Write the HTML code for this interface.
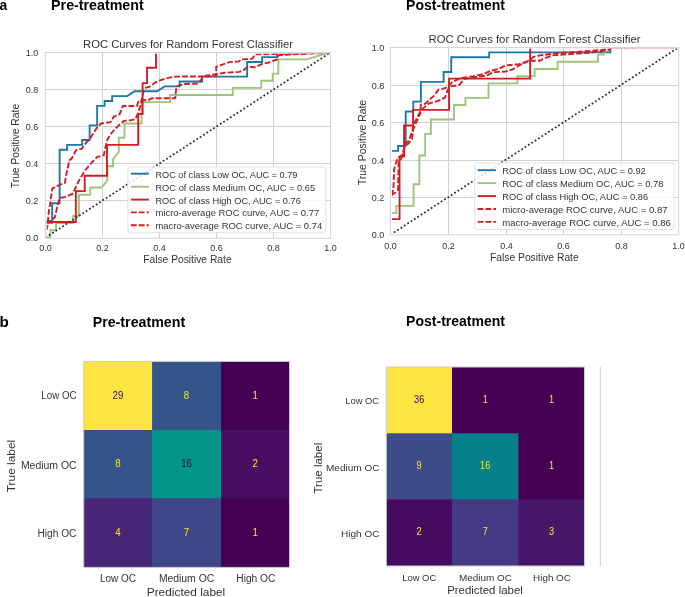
<!DOCTYPE html>
<html><head><meta charset="utf-8"><title>ROC and confusion matrices</title>
<style>html,body{margin:0;padding:0;background:#fff;width:685px;height:597px;overflow:hidden}svg{display:block;will-change:transform}text{font-family:"Liberation Sans", sans-serif}</style>
</head><body>
<svg width="685" height="597" viewBox="0 0 685 597" font-family='"Liberation Sans", sans-serif'>
<rect width="685" height="597" fill="#fff"/>
<text x="3.45" y="9.8" text-anchor="middle" font-size="14" font-weight="700" fill="#000" textLength="7.7" lengthAdjust="spacingAndGlyphs">a</text>
<text x="97.4" y="9.8" text-anchor="middle" font-size="14" font-weight="700" fill="#000" textLength="92.6" lengthAdjust="spacingAndGlyphs">Pre-treatment</text>
<text x="455.55" y="10" text-anchor="middle" font-size="14" font-weight="700" fill="#000" textLength="98.9" lengthAdjust="spacingAndGlyphs">Post-treatment</text>
<text x="4.25" y="326.9" text-anchor="middle" font-size="14" font-weight="700" fill="#000" textLength="9.3" lengthAdjust="spacingAndGlyphs">b</text>
<text x="138.95" y="326.9" text-anchor="middle" font-size="14" font-weight="700" fill="#000" textLength="92.5" lengthAdjust="spacingAndGlyphs">Pre-treatment</text>
<text x="455.55" y="326.2" text-anchor="middle" font-size="14" font-weight="700" fill="#000" textLength="98.9" lengthAdjust="spacingAndGlyphs">Post-treatment</text>
<clipPath id="cl"><rect x="46.8" y="53.8" width="282.9" height="184.1"/></clipPath>
<path d="M102.5,52.5V238.3M45.3,200.5H330.6M159.5,52.5V238.3M45.3,163.5H330.6M216.5,52.5V238.3M45.3,126.5H330.6M273.5,52.5V238.3M45.3,89.5H330.6" stroke="#d2d2d2" stroke-width="1" fill="none"/>
<g clip-path="url(#cl)" fill="none" stroke-width="1.9" stroke-linejoin="miter">
<path d="M44.65,237.4 L44.65,222.79 L52.15,222.79 L52.15,203.3 L59.65,203.3 L59.65,149.72 L67.15,149.72 L67.15,144.85 L82.15,144.85 L82.15,139.98 L89.65,139.98 L89.65,125.37 L97.15,125.37 L97.15,105.88 L104.65,105.88 L104.65,101.01 L112.15,101.01 L112.15,96.14 L127.15,96.14 L134.65,91.27 L157.15,91.27 L164.65,86.4 L179.65,86.4 L179.65,81.53 L202.15,81.53 L202.15,76.66 L247.15,76.66 L247.15,62.04 L262.15,62.04 L262.15,57.17 L277.15,57.17 L277.15,52.3 L329.65,52.3" stroke="#1a78ad"/>
<path d="M44.65,237.4 L50.35,237.4 L50.35,230.28 L56.05,230.28 L56.05,223.16 L73.15,223.16 L73.15,216.04 L78.85,216.04 L78.85,194.68 L90.25,194.68 L90.25,187.57 L101.65,187.57 L107.35,180.45 L107.35,166.21 L113.05,166.21 L113.05,159.09 L118.75,151.97 L118.75,137.73 L124.45,137.73 L124.45,123.49 L141.55,123.49 L141.55,102.13 L170.05,102.13 L170.05,95.02 L232.75,95.02 L232.75,87.9 L261.25,87.9 L261.25,80.78 L272.65,80.78 L272.65,73.66 L278.35,73.66 L278.35,59.42 L306.85,59.42 L329.65,52.3" stroke="#9cc57a"/>
<path d="M44.65,237.4 L44.65,221.97 L75.82,221.97 L75.82,191.12 L84.73,191.12 L84.73,175.7 L106.99,175.7 L106.99,144.85 L138.17,144.85 L138.17,114 L142.62,114 L142.62,83.15 L147.07,83.15 L147.07,67.73 L155.98,67.73 L155.98,52.3 L329.65,52.3" stroke="#d21e22"/>
<path d="M45.4,238.2 L45.6,232 L47.5,226 L48,220 L49,210 L50.3,203 L52,190 L52.5,188.5 L57,186 L65,182.8 L66,176 L69.3,160.4 L71.8,158.3 L76,150.3 L81.9,148.6 L86,142.8 L89.4,139.4 L97,127.7 L101.1,123.5 L110.4,122.2 L113.7,116.8 L119.6,114.3 L122.9,106 L137,106 L138.5,100.8 L149,99.7 L152,98.2 L175.3,98.2 L176.3,86.6 L184,84 L198.8,83.5 L202.1,78.2 L206.8,75.5 L217.5,74.1 L224.2,72.8 L239,71.9 L243,70.8 L247.7,66.8 L255,67.2 L263,63.4 L268.4,62.7 L277.1,59.4 L278.5,55.4 L290,54.5 L330.5,52.7" stroke="#d21e22" stroke-dasharray="5.8 2.1"/>
<path d="M45.4,238.2 L45.6,228 L46.2,221.5 L51,221 L55,217 L56.5,210 L58,204 L59.6,198 L65,197 L72.2,194 L74,191.1 L78.7,181.1 L84.5,171.2 L88.6,166.2 L97,157 L103.7,155.3 L107,140.3 L110.4,134.4 L115.4,128.5 L123.8,121 L130.5,120.2 L135.1,119.3 L138.1,113.2 L141.6,101.2 L143.6,90.1 L146.1,87.6 L149.6,86.6 L155.2,82.6 L159.2,80.6 L167.2,78.1 L175.3,76.6 L216.2,76.4 L216.2,66.8 L220.2,65.4 L229.6,62.1 L239,61.4 L241.6,59.4 L252.4,58.7 L255,54.4 L277,54 L330.5,52.7" stroke="#d21e22" stroke-dasharray="5.8 2.1"/>
<path d="M45.5,237.6L330.5,52.5" stroke="#2d2d2d" stroke-width="1.75" stroke-dasharray="1.8 2.2"/>
</g>
<rect x="45.3" y="52.5" width="285.3" height="185.8" fill="none" stroke="#d4d4d4" stroke-width="1"/>
<text x="188.05" y="47.8" text-anchor="middle" font-size="11.2" fill="#333333" textLength="210.02" lengthAdjust="spacingAndGlyphs">ROC Curves for Random Forest Classifier</text>
<text x="187.4" y="263.3" text-anchor="middle" font-size="10.4" fill="#333333" textLength="88.44" lengthAdjust="spacingAndGlyphs">False Positive Rate</text>
<text transform="translate(19,146.05) rotate(-90)" text-anchor="middle" font-size="10.4" fill="#333333" textLength="84.34" lengthAdjust="spacingAndGlyphs">True Positive Rate</text>
<text x="45.5" y="251.2" text-anchor="middle" font-size="9" fill="#333333">0.0</text>
<text x="38.3" y="241.3" text-anchor="end" font-size="9" fill="#333333">0.0</text>
<text x="102.5" y="251.2" text-anchor="middle" font-size="9" fill="#333333">0.2</text>
<text x="38.3" y="204.3" text-anchor="end" font-size="9" fill="#333333">0.2</text>
<text x="159.5" y="251.2" text-anchor="middle" font-size="9" fill="#333333">0.4</text>
<text x="38.3" y="167.3" text-anchor="end" font-size="9" fill="#333333">0.4</text>
<text x="216.5" y="251.2" text-anchor="middle" font-size="9" fill="#333333">0.6</text>
<text x="38.3" y="130.3" text-anchor="end" font-size="9" fill="#333333">0.6</text>
<text x="273.5" y="251.2" text-anchor="middle" font-size="9" fill="#333333">0.8</text>
<text x="38.3" y="93.3" text-anchor="end" font-size="9" fill="#333333">0.8</text>
<text x="330.5" y="251.2" text-anchor="middle" font-size="9" fill="#333333">1.0</text>
<text x="38.3" y="56.3" text-anchor="end" font-size="9" fill="#333333">1.0</text>
<rect x="127.9" y="167" width="197.9" height="65.7" rx="2.5" fill="#fff" fill-opacity="0.82" stroke="#e2e2e2" stroke-width="1"/>
<path d="M130.9,173.7H148.9" stroke="#1a78ad" stroke-width="1.9"/>
<text x="226.45" y="177.65" text-anchor="middle" font-size="9.5" fill="#333333" textLength="142.05" lengthAdjust="spacingAndGlyphs">ROC of class Low OC, AUC = 0.79</text>
<path d="M130.9,186.7H148.9" stroke="#9cc57a" stroke-width="1.9"/>
<text x="235.25" y="190.65" text-anchor="middle" font-size="9.5" fill="#333333" textLength="159.65" lengthAdjust="spacingAndGlyphs">ROC of class Medium OC, AUC = 0.65</text>
<path d="M130.9,199.6H148.9" stroke="#d21e22" stroke-width="1.9"/>
<text x="228.15" y="203.55" text-anchor="middle" font-size="9.5" fill="#333333" textLength="145.45" lengthAdjust="spacingAndGlyphs">ROC of class High OC, AUC = 0.76</text>
<path d="M130.9,212.4H148.9" stroke="#d21e22" stroke-width="1.9" stroke-dasharray="5.8 2.1"/>
<text x="237.35" y="216.35" text-anchor="middle" font-size="9.5" fill="#333333" textLength="163.85" lengthAdjust="spacingAndGlyphs">micro-average ROC curve, AUC = 0.77</text>
<path d="M130.9,225.2H148.9" stroke="#d21e22" stroke-width="1.9" stroke-dasharray="5.8 2.1"/>
<text x="238.85" y="229.15" text-anchor="middle" font-size="9.5" fill="#333333" textLength="166.85" lengthAdjust="spacingAndGlyphs">macro-average ROC curve, AUC = 0.74</text>
<clipPath id="cr"><rect x="392" y="48.8" width="285.8" height="185.6"/></clipPath>
<path d="M448.5,47.5V234.8M390.5,197.5H678.7M506.5,47.5V234.8M390.5,160.5H678.7M563.5,47.5V234.8M390.5,122.5H678.7M621.5,47.5V234.8M390.5,85.5H678.7" stroke="#d2d2d2" stroke-width="1" fill="none"/>
<g clip-path="url(#cr)" fill="none" stroke-width="1.9" stroke-linejoin="miter">
<path d="M390.55,234.7 L390.55,150.91 L398.13,150.91 L398.13,145.98 L405.72,145.98 L405.72,111.48 L413.3,111.48 L413.3,101.62 L420.88,101.62 L420.88,81.9 L443.63,81.9 L443.63,72.04 L451.21,72.04 L451.21,57.26 L489.13,57.26 L489.13,52.33 L610.45,52.33 L610.45,47.4 L678.7,47.4" stroke="#1a78ad"/>
<path d="M390.55,234.7 L390.55,213.09 L396.31,213.09 L396.31,205.88 L413.6,205.88 L413.6,184.27 L419.37,184.27 L419.37,155.46 L425.13,155.46 L425.13,133.85 L430.89,133.85 L430.89,119.44 L453.94,119.44 L453.94,105.03 L465.47,105.03 L465.47,97.83 L488.52,97.83 L488.52,83.42 L517.34,83.42 L517.34,76.22 L534.62,76.22 L534.62,69.01 L557.68,69.01 L557.68,61.81 L598.02,61.81 L598.02,54.6 L603.78,54.6 L603.78,47.4 L678.7,47.4" stroke="#9cc57a"/>
<path d="M390.55,234.7 L390.55,219.09 L399.55,219.09 L399.55,156.66 L404.06,156.66 L404.06,125.44 L413.06,125.44 L413.06,109.83 L449.08,109.83 L449.08,78.62 L530.12,78.62 L530.12,47.4 L678.7,47.4" stroke="#d21e22"/>
<path d="M390.5,234.8 L390.5,197 L392,194.5 L393.5,188 L394,170 L395.5,164 L398,157.6 L401,156 L403,154 L404.6,146 L408,144 L412,139 L413.2,129.3 L417.3,120.1 L420.3,112.9 L420.8,104.7 L425.4,103.7 L429.5,99.6 L433.6,96.1 L438.7,89.4 L442.8,88.9 L447.9,86.9 L452,82.3 L460.2,78.2 L473.4,76.2 L482.8,74.2 L490.8,70.8 L498.9,68.8 L505.6,65.5 L519,64.1 L529.7,60.8 L540,60.8 L543,58.8 L552.4,55.4 L588.6,52.7 L608.7,50 L612,47.5 L678.8,47.3" stroke="#d21e22" stroke-dasharray="5.8 2.1"/>
<path d="M390.5,234.8 L390.5,196 L395.5,192.3 L398,190 L398.6,162 L401,159 L403,153 L405,145 L409,140 L412,132 L414.2,123.1 L421.3,109.9 L428.5,103.7 L438.7,100.7 L444.9,97.6 L447.9,89.4 L451,86.3 L458.1,85.3 L460,84.2 L464,78.9 L473.4,77.5 L486.8,75.5 L493.5,72.2 L505.6,71.5 L512.3,69.5 L519,65.5 L524.3,62.8 L529.7,60.1 L533.7,56.8 L540,55.4 L555.1,53.4 L602,50 L608.7,48.7 L612,47.5 L678.8,47.3" stroke="#d21e22" stroke-dasharray="5.8 2.1"/>
<path d="M390.55,234.7L678.7,47.4" stroke="#2d2d2d" stroke-width="1.75" stroke-dasharray="1.8 2.2"/>
</g>
<rect x="390.5" y="47.5" width="288.2" height="187.3" fill="none" stroke="#d4d4d4" stroke-width="1"/>
<text x="534.5" y="43.1" text-anchor="middle" font-size="11.3" fill="#333333" textLength="212.13" lengthAdjust="spacingAndGlyphs">ROC Curves for Random Forest Classifier</text>
<text x="534.35" y="260.6" text-anchor="middle" font-size="10.4" fill="#333333" textLength="88.74" lengthAdjust="spacingAndGlyphs">False Positive Rate</text>
<text transform="translate(365.6,142.5) rotate(-90)" text-anchor="middle" font-size="10.5" fill="#333333" textLength="85.25" lengthAdjust="spacingAndGlyphs">True Positive Rate</text>
<text x="390.5" y="248.7" text-anchor="middle" font-size="9" fill="#333333">0.0</text>
<text x="384.3" y="237.8" text-anchor="end" font-size="9" fill="#333333">0.0</text>
<text x="448.5" y="248.7" text-anchor="middle" font-size="9" fill="#333333">0.2</text>
<text x="384.3" y="200.8" text-anchor="end" font-size="9" fill="#333333">0.2</text>
<text x="506.5" y="248.7" text-anchor="middle" font-size="9" fill="#333333">0.4</text>
<text x="384.3" y="163.8" text-anchor="end" font-size="9" fill="#333333">0.4</text>
<text x="563.5" y="248.7" text-anchor="middle" font-size="9" fill="#333333">0.6</text>
<text x="384.3" y="125.8" text-anchor="end" font-size="9" fill="#333333">0.6</text>
<text x="621.5" y="248.7" text-anchor="middle" font-size="9" fill="#333333">0.8</text>
<text x="384.3" y="88.8" text-anchor="end" font-size="9" fill="#333333">0.8</text>
<text x="678.5" y="248.7" text-anchor="middle" font-size="9" fill="#333333">1.0</text>
<text x="384.3" y="50.8" text-anchor="end" font-size="9" fill="#333333">1.0</text>
<rect x="474.6" y="162.9" width="199.4" height="66.6" rx="2.5" fill="#fff" fill-opacity="0.82" stroke="#e2e2e2" stroke-width="1"/>
<path d="M477.6,170.2H496" stroke="#1a78ad" stroke-width="1.9"/>
<text x="574" y="174.15" text-anchor="middle" font-size="9.5" fill="#333333" textLength="143.55" lengthAdjust="spacingAndGlyphs">ROC of class Low OC, AUC = 0.92</text>
<path d="M477.6,183.1H496" stroke="#9cc57a" stroke-width="1.9"/>
<text x="582.85" y="187.05" text-anchor="middle" font-size="9.5" fill="#333333" textLength="161.25" lengthAdjust="spacingAndGlyphs">ROC of class Medium OC, AUC = 0.78</text>
<path d="M477.6,196.1H496" stroke="#d21e22" stroke-width="1.9"/>
<text x="575.15" y="200.05" text-anchor="middle" font-size="9.5" fill="#333333" textLength="145.85" lengthAdjust="spacingAndGlyphs">ROC of class High OC, AUC = 0.86</text>
<path d="M477.6,209H496" stroke="#d21e22" stroke-width="1.9" stroke-dasharray="5.8 2.1"/>
<text x="584.9" y="212.95" text-anchor="middle" font-size="9.5" fill="#333333" textLength="165.35" lengthAdjust="spacingAndGlyphs">micro-average ROC curve, AUC = 0.87</text>
<path d="M477.6,221.9H496" stroke="#d21e22" stroke-width="1.9" stroke-dasharray="5.8 2.1"/>
<text x="586.55" y="225.85" text-anchor="middle" font-size="9.5" fill="#333333" textLength="168.65" lengthAdjust="spacingAndGlyphs">macro-average ROC curve, AUC = 0.86</text>
<rect x="83.7" y="361.4" width="69.9" height="70.1" fill="#fde440"/>
<rect x="152.1" y="361.4" width="70.4" height="70.1" fill="#34548a"/>
<rect x="221" y="361.4" width="68.5" height="70.1" fill="#440154"/>
<rect x="83.7" y="430" width="69.9" height="69.8" fill="#34548a"/>
<rect x="152.1" y="430" width="70.4" height="69.8" fill="#039688"/>
<rect x="221" y="430" width="68.5" height="69.8" fill="#470e61"/>
<rect x="83.7" y="498.3" width="69.9" height="69.1" fill="#482677"/>
<rect x="152.1" y="498.3" width="70.4" height="69.1" fill="#3f4788"/>
<rect x="221" y="498.3" width="68.5" height="69.1" fill="#440154"/>
<rect x="83.7" y="361.4" width="205.8" height="206" fill="none" stroke="#cccccc" stroke-width="1"/>
<text transform="translate(117.9,398.7) scale(0.93,1)" text-anchor="middle" font-size="10.4" fill="#440154">29</text>
<text transform="translate(186.55,398.7) scale(0.93,1)" text-anchor="middle" font-size="10.4" fill="#fde725">8</text>
<text transform="translate(255.25,398.7) scale(0.93,1)" text-anchor="middle" font-size="10.4" fill="#fde725">1</text>
<text transform="translate(117.9,467.15) scale(0.93,1)" text-anchor="middle" font-size="10.4" fill="#fde725">8</text>
<text transform="translate(186.55,467.15) scale(0.93,1)" text-anchor="middle" font-size="10.4" fill="#440154">16</text>
<text transform="translate(255.25,467.15) scale(0.93,1)" text-anchor="middle" font-size="10.4" fill="#fde725">2</text>
<text transform="translate(117.9,535.85) scale(0.93,1)" text-anchor="middle" font-size="10.4" fill="#fde725">4</text>
<text transform="translate(186.55,535.85) scale(0.93,1)" text-anchor="middle" font-size="10.4" fill="#fde725">7</text>
<text transform="translate(255.25,535.85) scale(0.93,1)" text-anchor="middle" font-size="10.4" fill="#fde725">1</text>
<text x="58.9" y="399.4" text-anchor="middle" font-size="10.0" fill="#333333" textLength="35.2" lengthAdjust="spacingAndGlyphs">Low OC</text>
<text x="48.8" y="468.6" text-anchor="middle" font-size="10.0" fill="#333333" textLength="55.8" lengthAdjust="spacingAndGlyphs">Medium OC</text>
<text x="56.95" y="536.6" text-anchor="middle" font-size="10.0" fill="#333333" textLength="39.1" lengthAdjust="spacingAndGlyphs">High OC</text>
<text x="117.95" y="582.3" text-anchor="middle" font-size="10.0" fill="#333333" textLength="36.1" lengthAdjust="spacingAndGlyphs">Low OC</text>
<text x="186.55" y="582.2" text-anchor="middle" font-size="10.0" fill="#333333" textLength="55.3" lengthAdjust="spacingAndGlyphs">Medium OC</text>
<text x="255.85" y="582.2" text-anchor="middle" font-size="10.0" fill="#333333" textLength="39.1" lengthAdjust="spacingAndGlyphs">High OC</text>
<text x="186" y="595.5" text-anchor="middle" font-size="10.6" fill="#333333" textLength="78.46" lengthAdjust="spacingAndGlyphs">Predicted label</text>
<text transform="translate(15.2,466.05) rotate(-90)" text-anchor="middle" font-size="10.6" fill="#333333" textLength="52.36" lengthAdjust="spacingAndGlyphs">True label</text>
<rect x="386.3" y="367" width="67.2" height="67.8" fill="#fde440"/>
<rect x="452" y="367" width="67.9" height="67.8" fill="#440154"/>
<rect x="518.4" y="367" width="66.1" height="67.8" fill="#440154"/>
<rect x="386.3" y="433.3" width="67.2" height="67.6" fill="#3e4c8a"/>
<rect x="452" y="433.3" width="67.9" height="67.6" fill="#057f8a"/>
<rect x="518.4" y="433.3" width="66.1" height="67.6" fill="#440154"/>
<rect x="386.3" y="499.4" width="67.2" height="66.6" fill="#460b5e"/>
<rect x="452" y="499.4" width="67.9" height="66.6" fill="#443a83"/>
<rect x="518.4" y="499.4" width="66.1" height="66.6" fill="#481668"/>
<rect x="386.3" y="367" width="198.2" height="199" fill="none" stroke="#cccccc" stroke-width="1"/>
<text transform="translate(419.15,402.9) scale(0.92,1)" text-anchor="middle" font-size="10.0" fill="#440154">36</text>
<text transform="translate(485.2,402.9) scale(0.92,1)" text-anchor="middle" font-size="10.0" fill="#fde725">1</text>
<text transform="translate(551.45,402.9) scale(0.92,1)" text-anchor="middle" font-size="10.0" fill="#fde725">1</text>
<text transform="translate(419.15,469.1) scale(0.92,1)" text-anchor="middle" font-size="10.0" fill="#fde725">9</text>
<text transform="translate(485.2,469.1) scale(0.92,1)" text-anchor="middle" font-size="10.0" fill="#fde725">16</text>
<text transform="translate(551.45,469.1) scale(0.92,1)" text-anchor="middle" font-size="10.0" fill="#fde725">1</text>
<text transform="translate(419.15,535.45) scale(0.92,1)" text-anchor="middle" font-size="10.0" fill="#fde725">2</text>
<text transform="translate(485.2,535.45) scale(0.92,1)" text-anchor="middle" font-size="10.0" fill="#fde725">7</text>
<text transform="translate(551.45,535.45) scale(0.92,1)" text-anchor="middle" font-size="10.0" fill="#fde725">3</text>
<text x="362.2" y="403.8" text-anchor="middle" font-size="9.6" fill="#333333" textLength="33.76" lengthAdjust="spacingAndGlyphs">Low OC</text>
<text x="352.75" y="471" text-anchor="middle" font-size="9.6" fill="#333333" textLength="53.46" lengthAdjust="spacingAndGlyphs">Medium OC</text>
<text x="360.3" y="536.6" text-anchor="middle" font-size="9.6" fill="#333333" textLength="38.36" lengthAdjust="spacingAndGlyphs">High OC</text>
<text x="419.2" y="580.9" text-anchor="middle" font-size="9.6" fill="#333333" textLength="33.96" lengthAdjust="spacingAndGlyphs">Low OC</text>
<text x="485.5" y="581.1" text-anchor="middle" font-size="9.6" fill="#333333" textLength="53.16" lengthAdjust="spacingAndGlyphs">Medium OC</text>
<text x="552" y="581.1" text-anchor="middle" font-size="9.6" fill="#333333" textLength="37.76" lengthAdjust="spacingAndGlyphs">High OC</text>
<text x="485" y="593.6" text-anchor="middle" font-size="10.2" fill="#333333" textLength="75.62" lengthAdjust="spacingAndGlyphs">Predicted label</text>
<text transform="translate(321.5,468.15) rotate(-90)" text-anchor="middle" font-size="10.2" fill="#333333" textLength="50.72" lengthAdjust="spacingAndGlyphs">True label</text>
<path d="M600.3,366.7V566" stroke="#cccccc" stroke-width="1"/>
</svg>
</body></html>
